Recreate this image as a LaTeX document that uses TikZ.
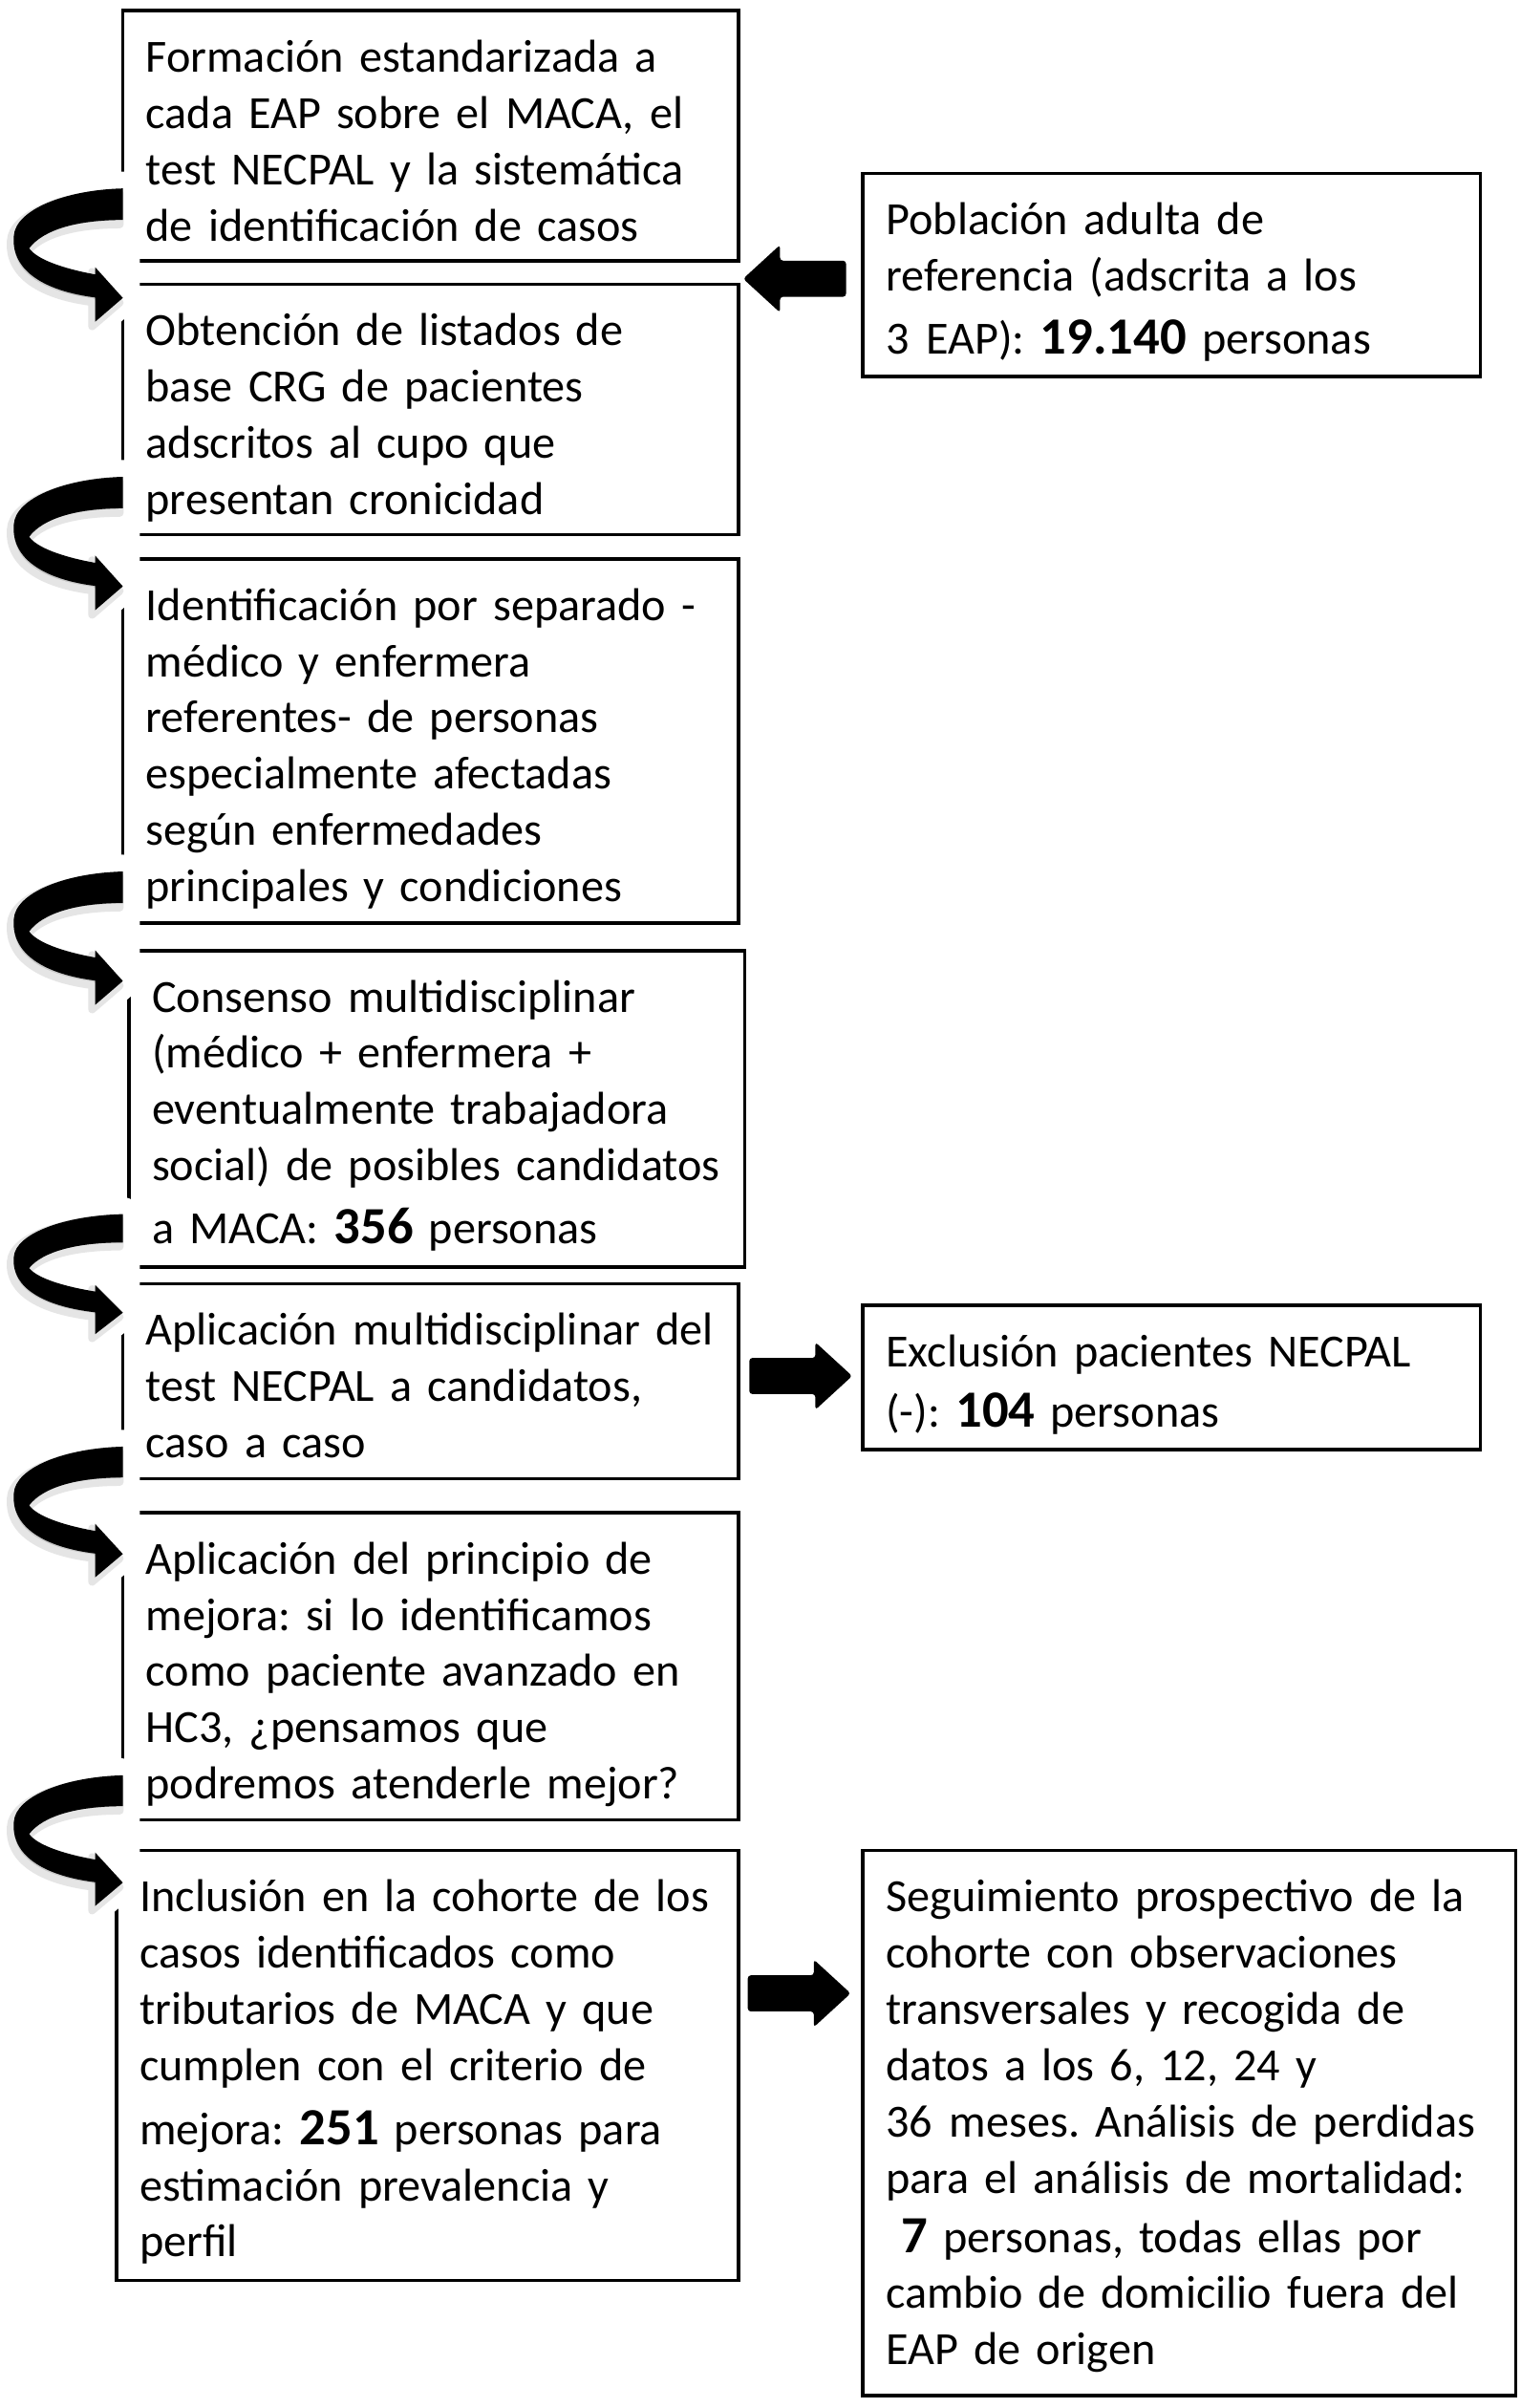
\documentclass[tikz,border=0pt]{standalone}
\usepackage{fontspec}
\setmainfont{Carlito}
\usetikzlibrary{calc}
\pgfdeclarelayer{bg}
\pgfdeclarelayer{mask}
\pgfsetlayers{bg,mask,main}
\newcommand{\bnum}[1]{{\fontsize{17pt}{18.3pt}\selectfont\bfseries #1}}
\newcommand{\boxtext}{\frenchspacing\leftskip=7.5pt\rightskip=-30pt plus 1fil\relax}
\newcommand{\wsp}{\hspace{5.5pt}}
\tikzset{
  boxn/.style={anchor=north west, inner xsep=0pt, inner ysep=0pt, outer sep=0pt,
    text height=20pt, font=\fontsize{15pt}{18.3pt}\selectfont},
  boxline/.style={draw=black, line width=1.1pt},
  carrow/.pic={
    \begin{pgfonlayer}{mask}
      \path[fill=white, draw=white, line width=11pt, line join=round]
        (0,0) .. controls (-38,1) and (-70,14) .. (-71,31)
        .. controls (-73,54) and (-50,67) .. (-18,70.5)
        -- (-18,86.8) -- (0,71.3) -- cycle;
      \path[fill=black!22, draw=black!10, line width=2.5pt, line join=round, shift={(-2,3)}]
        (0,0) .. controls (-38,1) and (-70,14) .. (-71,31)
        .. controls (-73,54) and (-50,67) .. (-18,71)
        -- (-18,86.8) -- (0,71.3) -- (-18,51.3) -- (-18,56)
        .. controls (-40,52) and (-56,46) .. (-61,39)
        .. controls (-52,27) and (-30,20.5) .. (0,20.5) -- cycle;
    \end{pgfonlayer}
    \fill[black] (0,0) .. controls (-38,1) and (-70,14) .. (-71,31)
      .. controls (-73,54) and (-50,67) .. (-18,71)
      -- (-18,86.8) -- (0,71.3) -- (-18,51.3) -- (-18,56)
      .. controls (-40,52) and (-56,46) .. (-61,39)
      .. controls (-52,27) and (-30,20.5) .. (0,20.5) -- cycle;
  },
  barrow/.pic={
    \fill[black, rounded corners=1pt] (0,-11.75) -- (43,-11.75) -- (43,-22) -- (67,0)
      -- (43,22) -- (43,11.75) -- (0,11.75) -- cycle;
  }
}
\begin{document}
\begin{tikzpicture}[x=0.5pt, y=-0.5pt]
\useasboundingbox (0,0) rectangle (990,1568);
\begin{pgfonlayer}{bg}
  \fill[white] (0,0) rectangle (990,1568);
\end{pgfonlayer}

% left column
\node[boxn, text width=200.5pt, text depth=61.5pt] (b1) at (80,7) {\boxtext
Formación estandarizada a\\
cada EAP sobre el MACA, el\\
test NECPAL y la sistemática\\
de identificación de casos\par};

\node[boxn, text width=200.5pt, text depth=61.5pt] (b2) at (80,185) {\boxtext
Obtención de listados de\\
base CRG de pacientes\\
adscritos al cupo que\\
presentan cronicidad\par};

\node[boxn, text width=200.5pt, text depth=98.5pt] (b3) at (80,364) {\boxtext
Identificación por separado -\\
médico y enfermera\\
referentes- de personas\\
especialmente afectadas\\
según enfermedades\\
principales y condiciones\par};

\node[boxn, text width=200.5pt, text depth=83pt] (b4) at (84,619) {\boxtext
Consenso multidisciplinar\\
(médico + enfermera +\\
eventualmente trabajadora\\
social) de posibles candidatos\\[2.3pt]
a MACA: \bnum{356} personas\par};

\node[boxn, text width=200.5pt, text depth=43.5pt] (b5) at (80,836) {\boxtext
Aplicación multidisciplinar del\\
test NECPAL a candidatos,\\
caso a caso\par};

\node[boxn, text width=200.5pt, text depth=80pt] (b6) at (80,985) {\boxtext
Aplicación del principio de\\
mejora: si lo identificamos\\
como paciente avanzado en\\
HC3, ¿pensamos que\\
podremos atenderle mejor?\par};

\node[boxn, text width=202.5pt, text depth=120pt] (b7) at (76,1205) {\boxtext
Inclusión en la cohorte de los\\
casos identificados como\\
tributarios de MACA y que\\
cumplen con el criterio de\\[2.5pt]
mejora: \bnum{251} personas para\\
estimación prevalencia y\\
perfil\par};

% right column
\node[boxn, text width=201pt, text depth=46pt] (pA) at (562,113) {\boxtext
Población adulta de\\
referencia (adscrita a los\\[2.3pt]
3\wsp EAP): \bnum{19.140} personas\par};

\node[boxn, text width=201pt, text depth=27pt] (pB) at (562,850) {\boxtext
Exclusión pacientes NECPAL\\[1.3pt]
(-): \bnum{104} personas\par};

\node[boxn, text width=212.5pt, text depth=157.5pt] (pC) at (562,1205) {\boxtext
Seguimiento prospectivo de la\\
cohorte con observaciones\\
transversales y recogida de\\
datos a los 6, 12, 24 y\\
36\wsp meses. Análisis de perdidas\\
para el análisis de mortalidad:\\[1pt]
~\bnum{7} personas, todas ellas por\\
cambio de domicilio fuera del\\
EAP de origen\par};

% box borders
\begin{pgfonlayer}{bg}
  \foreach \n in {b1,b2,b3,b4,b5,b6,b7,pA,pB,pC}
    \draw[boxline] (\n.north west) rectangle (\n.south east);
\end{pgfonlayer}

% curved arrows between consecutive steps
\pic at ($(b1.south west)+(0,-47.3)$) {carrow};
\pic at ($(b2.south west)+(0,-37.5)$) {carrow};
\pic at ($(b3.south west)+(0,-33.5)$) {carrow};
\pic[yscale=0.9] at ($(b4.south west)+(-4,-34.4)$) {carrow};
\pic[yscale=0.98] at ($(b5.south west)+(0,-21)$) {carrow};
\pic[yscale=0.98] at ($(b6.south west)+(0,-29)$) {carrow};

% block arrows
\pic[xscale=-1] at ($(pA.west)+(-11,2.5)$) {barrow};
\pic at ($(b5.east)+(7,-3.5)$) {barrow};
\pic at ($(b7.east |- pC.north)+(6,93)$) {barrow};
\end{tikzpicture}
\end{document}
